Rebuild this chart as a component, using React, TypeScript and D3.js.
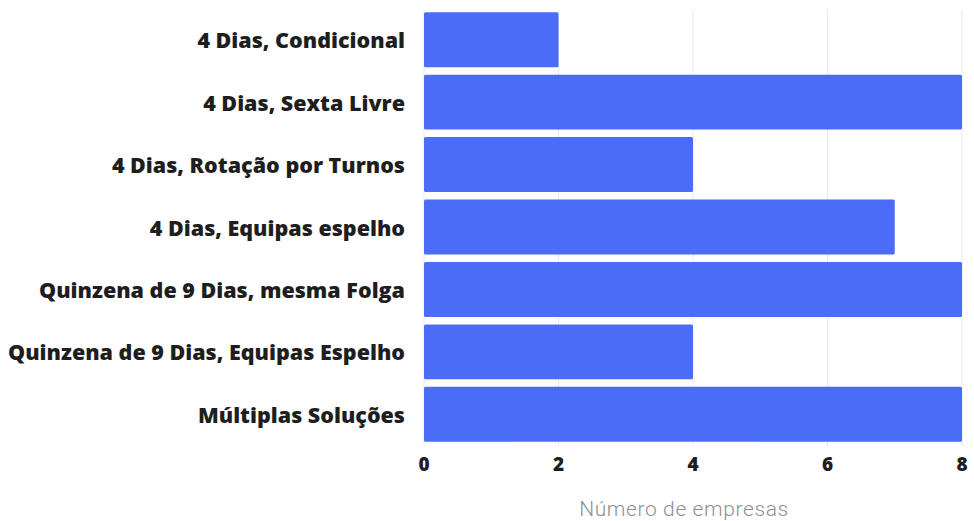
import React from "react";
import * as d3 from "d3";

const categories = [
  "4 Dias, Condicional",
  "4 Dias, Sexta Livre",
  "4 Dias, Rotação por Turnos",
  "4 Dias, Equipas espelho",
  "Quinzena de 9 Dias, mesma Folga",
  "Quinzena de 9 Dias, Equipas Espelho",
  "Múltiplas Soluções",
];
const values = [2, 8, 4, 7, 8, 4, 8];
const xTicks = [0, 2, 4, 6, 8];
const axisTitle = "Número de empresas";

const W = 974;
const H = 521;

export default function App() {
  const x = d3.scaleLinear().domain([0, 8]).range([424, 962]);
  const y = d3
    .scaleBand<string>()
    .domain(categories)
    .range([8.5, 445.5])
    .paddingInner(0.12)
    .paddingOuter(0.06);

  return (
    <svg
      width={W}
      height={H}
      style={{ position: "absolute", left: 0, top: 0, background: "#fff" }}
    >
      {xTicks.map((t) => (
        <line
          key={"g" + t}
          x1={x(t)}
          x2={x(t)}
          y1={10}
          y2={446}
          stroke="#e8e8e8"
          strokeWidth={1}
        />
      ))}
      {categories.map((c, i) => (
        <rect
          key={c}
          x={x(0)}
          y={y(c)}
          width={x(values[i]) - x(0)}
          height={y.bandwidth()}
          fill="#4a6cf7"
          rx={1.5}
        />
      ))}
      {categories.map((c) => (
        <text
          key={"l" + c}
          x={405}
          y={(y(c) ?? 0) + y.bandwidth() / 2}
          textAnchor="end"
          dominantBaseline="central"
          fontFamily="'Open Sans', sans-serif"
          fontWeight={800}
          fontSize={21.5}
          fill="#1e1e1e"
        >
          {c}
        </text>
      ))}
      {xTicks.map((t) => (
        <text
          key={"t" + t}
          x={x(t)}
          y={464}
          textAnchor="middle"
          dominantBaseline="central"
          fontFamily="'Open Sans', sans-serif"
          fontWeight={800}
          fontSize={19}
          fill="#1e1e1e"
        >
          {t}
        </text>
      ))}
      <text
        x={(x(0) + x(8)) / 2 - 9}
        y={509}
        textAnchor="middle"
        dominantBaseline="central"
        fontFamily="Roboto, sans-serif"
        fontWeight={300}
        fontSize={21}
        letterSpacing={0.6}
        fill="#8f8f8f"
      >
        {axisTitle}
      </text>
    </svg>
  );
}
